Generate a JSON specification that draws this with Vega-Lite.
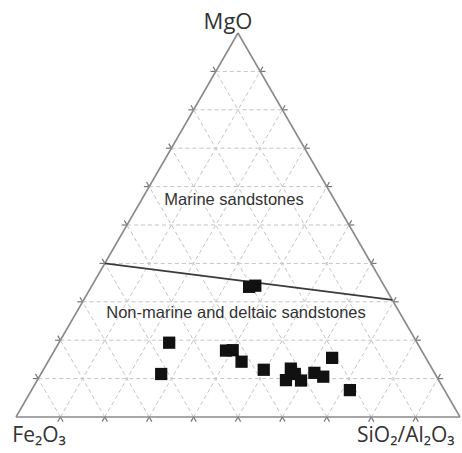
{
  "$schema": "https://vega.github.io/schema/vega-lite/v6.json",
  "width": 444,
  "height": 384,
  "autosize": "none",
  "padding": {"left": 16, "top": 33, "right": 2, "bottom": 36},
  "background": "white",
  "config": {"view": {"stroke": null}},
  "datasets": {
    "grid": [
      {"x": 0.05, "y": 0.1, "x2": 0.95, "y2": 0.1},
      {"x": 0.1, "y": 0.2, "x2": 0.9, "y2": 0.2},
      {"x": 0.15, "y": 0.3, "x2": 0.85, "y2": 0.3},
      {"x": 0.2, "y": 0.4, "x2": 0.8, "y2": 0.4},
      {"x": 0.25, "y": 0.5, "x2": 0.75, "y2": 0.5},
      {"x": 0.3, "y": 0.6, "x2": 0.7, "y2": 0.6},
      {"x": 0.35, "y": 0.7, "x2": 0.65, "y2": 0.7},
      {"x": 0.4, "y": 0.8, "x2": 0.6, "y2": 0.8},
      {"x": 0.45, "y": 0.9, "x2": 0.55, "y2": 0.9},
      {"x": 0.1, "y": 0, "x2": 0.55, "y2": 0.9},
      {"x": 0.2, "y": 0, "x2": 0.6, "y2": 0.8},
      {"x": 0.3, "y": 0, "x2": 0.65, "y2": 0.7},
      {"x": 0.4, "y": 0, "x2": 0.7, "y2": 0.6},
      {"x": 0.5, "y": 0, "x2": 0.75, "y2": 0.5},
      {"x": 0.6, "y": 0, "x2": 0.8, "y2": 0.4},
      {"x": 0.7, "y": 0, "x2": 0.85, "y2": 0.3},
      {"x": 0.8, "y": 0, "x2": 0.9, "y2": 0.2},
      {"x": 0.9, "y": 0, "x2": 0.95, "y2": 0.1},
      {"x": 0.1, "y": 0, "x2": 0.05, "y2": 0.1},
      {"x": 0.2, "y": 0, "x2": 0.1, "y2": 0.2},
      {"x": 0.3, "y": 0, "x2": 0.15, "y2": 0.3},
      {"x": 0.4, "y": 0, "x2": 0.2, "y2": 0.4},
      {"x": 0.5, "y": 0, "x2": 0.25, "y2": 0.5},
      {"x": 0.6, "y": 0, "x2": 0.3, "y2": 0.6},
      {"x": 0.7, "y": 0, "x2": 0.35, "y2": 0.7},
      {"x": 0.8, "y": 0, "x2": 0.4, "y2": 0.8},
      {"x": 0.9, "y": 0, "x2": 0.45, "y2": 0.9}
    ],
    "ticks": [
      {"x": 0.038, "y": 0.1, "x2": 0.05, "y2": 0.1},
      {"x": 0.088, "y": 0.2, "x2": 0.1, "y2": 0.2},
      {"x": 0.138, "y": 0.3, "x2": 0.15, "y2": 0.3},
      {"x": 0.188, "y": 0.4, "x2": 0.2, "y2": 0.4},
      {"x": 0.238, "y": 0.5, "x2": 0.25, "y2": 0.5},
      {"x": 0.288, "y": 0.6, "x2": 0.3, "y2": 0.6},
      {"x": 0.338, "y": 0.7, "x2": 0.35, "y2": 0.7},
      {"x": 0.388, "y": 0.8, "x2": 0.4, "y2": 0.8},
      {"x": 0.438, "y": 0.9, "x2": 0.45, "y2": 0.9},
      {"x": 0.95, "y": 0.1, "x2": 0.962, "y2": 0.1},
      {"x": 0.9, "y": 0.2, "x2": 0.912, "y2": 0.2},
      {"x": 0.85, "y": 0.3, "x2": 0.862, "y2": 0.3},
      {"x": 0.8, "y": 0.4, "x2": 0.812, "y2": 0.4},
      {"x": 0.75, "y": 0.5, "x2": 0.762, "y2": 0.5},
      {"x": 0.7, "y": 0.6, "x2": 0.712, "y2": 0.6},
      {"x": 0.65, "y": 0.7, "x2": 0.662, "y2": 0.7},
      {"x": 0.6, "y": 0.8, "x2": 0.612, "y2": 0.8},
      {"x": 0.55, "y": 0.9, "x2": 0.562, "y2": 0.9},
      {"x": 0.094, "y": -0.012, "x2": 0.1, "y2": 0},
      {"x": 0.1, "y": 0, "x2": 0.106, "y2": -0.012},
      {"x": 0.194, "y": -0.012, "x2": 0.2, "y2": 0},
      {"x": 0.2, "y": 0, "x2": 0.206, "y2": -0.012},
      {"x": 0.294, "y": -0.012, "x2": 0.3, "y2": 0},
      {"x": 0.3, "y": 0, "x2": 0.306, "y2": -0.012},
      {"x": 0.394, "y": -0.012, "x2": 0.4, "y2": 0},
      {"x": 0.4, "y": 0, "x2": 0.406, "y2": -0.012},
      {"x": 0.494, "y": -0.012, "x2": 0.5, "y2": 0},
      {"x": 0.5, "y": 0, "x2": 0.506, "y2": -0.012},
      {"x": 0.594, "y": -0.012, "x2": 0.6, "y2": 0},
      {"x": 0.6, "y": 0, "x2": 0.606, "y2": -0.012},
      {"x": 0.694, "y": -0.012, "x2": 0.7, "y2": 0},
      {"x": 0.7, "y": 0, "x2": 0.706, "y2": -0.012},
      {"x": 0.794, "y": -0.012, "x2": 0.8, "y2": 0},
      {"x": 0.8, "y": 0, "x2": 0.806, "y2": -0.012},
      {"x": 0.894, "y": -0.012, "x2": 0.9, "y2": 0},
      {"x": 0.9, "y": 0, "x2": 0.906, "y2": -0.012},
      {"x": 0.55, "y": 0.9, "x2": 0.556, "y2": 0.912},
      {"x": 0.6, "y": 0.8, "x2": 0.606, "y2": 0.812},
      {"x": 0.65, "y": 0.7, "x2": 0.656, "y2": 0.712},
      {"x": 0.7, "y": 0.6, "x2": 0.706, "y2": 0.612},
      {"x": 0.75, "y": 0.5, "x2": 0.756, "y2": 0.512},
      {"x": 0.8, "y": 0.4, "x2": 0.806, "y2": 0.412},
      {"x": 0.85, "y": 0.3, "x2": 0.856, "y2": 0.312},
      {"x": 0.9, "y": 0.2, "x2": 0.906, "y2": 0.212},
      {"x": 0.95, "y": 0.1, "x2": 0.956, "y2": 0.112},
      {"x": 0.05, "y": 0.1, "x2": 0.044, "y2": 0.112},
      {"x": 0.1, "y": 0.2, "x2": 0.094, "y2": 0.212},
      {"x": 0.15, "y": 0.3, "x2": 0.144, "y2": 0.312},
      {"x": 0.2, "y": 0.4, "x2": 0.194, "y2": 0.412},
      {"x": 0.25, "y": 0.5, "x2": 0.244, "y2": 0.512},
      {"x": 0.3, "y": 0.6, "x2": 0.294, "y2": 0.612},
      {"x": 0.35, "y": 0.7, "x2": 0.344, "y2": 0.712},
      {"x": 0.4, "y": 0.8, "x2": 0.394, "y2": 0.812},
      {"x": 0.45, "y": 0.9, "x2": 0.444, "y2": 0.912}
    ],
    "outline": [
      {"x": 0, "y": 0, "x2": 1, "y2": 0},
      {"x": 0, "y": 0, "x2": 0.5, "y2": 1},
      {"x": 1, "y": 0, "x2": 0.5, "y2": 1}
    ],
    "boundary": [
      {"x": 0.2, "y": 0.4, "x2": 0.8475, "y2": 0.305}
    ],
    "samples": [
      {"x": 0.345, "y": 0.1935},
      {"x": 0.327, "y": 0.112},
      {"x": 0.473, "y": 0.173},
      {"x": 0.488, "y": 0.174},
      {"x": 0.508, "y": 0.144},
      {"x": 0.558, "y": 0.123},
      {"x": 0.619, "y": 0.126},
      {"x": 0.608, "y": 0.096},
      {"x": 0.642, "y": 0.095},
      {"x": 0.628, "y": 0.112},
      {"x": 0.672, "y": 0.115},
      {"x": 0.692, "y": 0.105},
      {"x": 0.712, "y": 0.154},
      {"x": 0.752, "y": 0.07},
      {"x": 0.525, "y": 0.339},
      {"x": 0.539, "y": 0.342}
    ],
    "topLabel": [
      {"label": "MgO", "x": 0.4775, "y": 1.029}
    ],
    "baseLabels": [
      {"label": "Fe₂O₃", "x": 0.052, "y": -0.064},
      {"label": "SiO₂/Al₂O₃", "x": 0.878, "y": -0.064}
    ],
    "regionLabels": [
      {"label": "Marine sandstones", "x": 0.491, "y": 0.565},
      {"label": "Non-marine and deltaic sandstones", "x": 0.4955, "y": 0.271}
    ]
  },
  "layer": [
    {
      "data": {"name": "grid"},
      "mark": {"type": "rule", "color": "#c4c4c4", "strokeWidth": 1, "strokeDash": [4, 3], "clip": false},
      "encoding": {
        "x": {"field": "x", "type": "quantitative", "scale": {"domain": [0, 1], "nice": false, "zero": false}, "axis": null},
        "y": {"field": "y", "type": "quantitative", "scale": {"domain": [0, 1], "nice": false, "zero": false}, "axis": null},
        "x2": {"field": "x2"},
        "y2": {"field": "y2"}
      }
    },
    {
      "data": {"name": "ticks"},
      "mark": {"type": "rule", "color": "#777777", "strokeWidth": 1.2, "clip": false},
      "encoding": {
        "x": {"field": "x", "type": "quantitative"},
        "y": {"field": "y", "type": "quantitative"},
        "x2": {"field": "x2"},
        "y2": {"field": "y2"}
      }
    },
    {
      "data": {"name": "outline"},
      "mark": {"type": "rule", "color": "#8a8a8a", "strokeWidth": 1.6, "clip": false},
      "encoding": {
        "x": {"field": "x", "type": "quantitative"},
        "y": {"field": "y", "type": "quantitative"},
        "x2": {"field": "x2"},
        "y2": {"field": "y2"}
      }
    },
    {
      "data": {"name": "boundary"},
      "mark": {"type": "rule", "color": "#3a3a3a", "strokeWidth": 1.6, "clip": false},
      "encoding": {
        "x": {"field": "x", "type": "quantitative"},
        "y": {"field": "y", "type": "quantitative"},
        "x2": {"field": "x2"},
        "y2": {"field": "y2"}
      }
    },
    {
      "data": {"name": "samples"},
      "mark": {"type": "point", "shape": "square", "filled": true, "color": "#111111", "opacity": 1, "size": 150, "clip": false},
      "encoding": {
        "x": {"field": "x", "type": "quantitative"},
        "y": {"field": "y", "type": "quantitative"}
      }
    },
    {
      "data": {"name": "topLabel"},
      "mark": {"type": "text", "font": "Open Sans", "fontSize": 22, "color": "#333333", "align": "center", "baseline": "middle", "clip": false},
      "encoding": {
        "x": {"field": "x", "type": "quantitative"},
        "y": {"field": "y", "type": "quantitative"},
        "text": {"field": "label"}
      }
    },
    {
      "data": {"name": "baseLabels"},
      "mark": {"type": "text", "font": "Open Sans", "fontSize": 21, "color": "#333333", "align": "center", "baseline": "alphabetic", "clip": false},
      "encoding": {
        "x": {"field": "x", "type": "quantitative"},
        "y": {"field": "y", "type": "quantitative"},
        "text": {"field": "label"}
      }
    },
    {
      "data": {"name": "regionLabels"},
      "mark": {"type": "text", "font": "Liberation Sans", "fontSize": 16.5, "color": "#333333", "align": "center", "baseline": "middle", "clip": false},
      "encoding": {
        "x": {"field": "x", "type": "quantitative"},
        "y": {"field": "y", "type": "quantitative"},
        "text": {"field": "label"}
      }
    }
  ]
}
